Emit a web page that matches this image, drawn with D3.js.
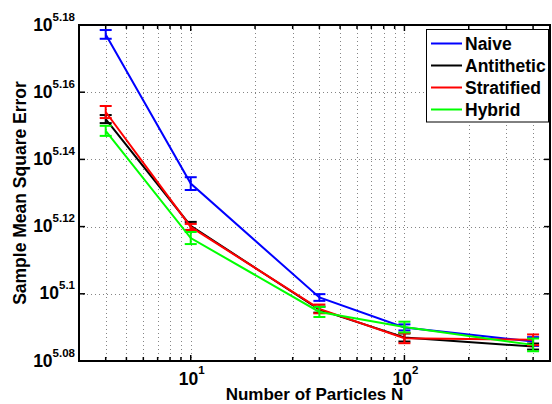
<!DOCTYPE html>
<html>
<head>
<meta charset="utf-8">
<script src="https://cdn.jsdelivr.net/npm/d3@7"></script>
<style>
  body { margin: 0; background: #fff; }
  text { font-family: "Liberation Sans", Arial, Helvetica, sans-serif; font-weight: bold; }
</style>
</head>
<body>
<script>
// particle counts on the x axis
var particles = [4, 10, 40, 100, 400];

// log10 of the sample mean square error, plus half-width of the error bar (also in log10 units)
var naiveLog = [5.1772, 5.1328, 5.0989, 5.0900, 5.0858];
var naiveErr = [0.0013, 0.0019, 0.0010, 0.0009, 0.0013];
var antitheticLog = [5.1520, 5.1202, 5.0953, 5.0870, 5.0843];
var antitheticErr = [0.0012, 0.0012, 0.0009, 0.0012, 0.0009];
var stratifiedLog = [5.1541, 5.1199, 5.0955, 5.0868, 5.0863];
var stratifiedErr = [0.0018, 0.0009, 0.0013, 0.0015, 0.0016];
var hybridLog = [5.1485, 5.1166, 5.0946, 5.0901, 5.0848];
var hybridErr = [0.0015, 0.0018, 0.0015, 0.0016, 0.0019];

var seriesNames = ["Naive", "Antithetic", "Stratified", "Hybrid"];
var seriesColors = ["#0000ff", "#000000", "#ff0000", "#00ff00"];

// tick labels
var yTickExp = [5.08, 5.10, 5.12, 5.14, 5.16, 5.18];
var yTickLabels = ["5.08", "5.1", "5.12", "5.14", "5.16", "5.18"];
var xTickValues = [10, 100];
var xTickLabels = ["1", "2"];
var xMinorValues = [3, 4, 5, 6, 7, 8, 9, 20, 30, 40, 50, 60, 70, 80, 90, 200, 300, 400];

var width = 552, height = 404;
var margin = {top: 25, right: 2, bottom: 43, left: 79};

var svg = d3.select("body").append("svg")
    .attr("width", width)
    .attr("height", height);

var x = d3.scaleLog().domain([3, 480]).range([margin.left, width - margin.right]);
var y = d3.scaleLog().domain([Math.pow(10, 5.08), Math.pow(10, 5.18)])
    .range([height - margin.bottom, margin.top]);

var x0 = x.range()[0], x1 = x.range()[1], y0 = y.range()[0], y1 = y.range()[1];

// grid lines (dotted)
var grid = svg.append("g").attr("stroke", "#858585").attr("stroke-width", 1)
    .attr("stroke-dasharray", "1,3");
xMinorValues.concat(xTickValues).forEach(function(v) {
  grid.append("line").attr("x1", Math.round(x(v)) + 0.5).attr("x2", Math.round(x(v)) + 0.5)
      .attr("y1", y1).attr("y2", y0);
});
yTickExp.forEach(function(e) {
  grid.append("line").attr("x1", x0).attr("x2", x1)
      .attr("y1", Math.round(y(Math.pow(10, e))) + 0.5).attr("y2", Math.round(y(Math.pow(10, e))) + 0.5);
});

// series
var allLog = [naiveLog, antitheticLog, stratifiedLog, hybridLog];
var allErr = [naiveErr, antitheticErr, stratifiedErr, hybridErr];

var line = d3.line()
    .x(function(d) { return x(d.n); })
    .y(function(d) { return y(Math.pow(10, d.v)); });

allLog.forEach(function(vals, s) {
  var pts = particles.map(function(n, i) { return {n: n, v: vals[i], e: allErr[s][i]}; });
  var g = svg.append("g").attr("stroke", seriesColors[s]).attr("stroke-width", 2).attr("fill", "none");
  g.append("path").attr("d", line(pts));
  pts.forEach(function(d) {
    var cx = x(d.n), ya = y(Math.pow(10, d.v - d.e)), yb = y(Math.pow(10, d.v + d.e));
    g.append("line").attr("x1", cx).attr("x2", cx).attr("y1", ya).attr("y2", yb);
    g.append("line").attr("x1", cx - 6).attr("x2", cx + 6).attr("y1", ya).attr("y2", ya);
    g.append("line").attr("x1", cx - 6).attr("x2", cx + 6).attr("y1", yb).attr("y2", yb);
  });
});

// axes box and ticks (inside, on all four sides)
var ax = svg.append("g").attr("stroke", "#000");
ax.append("rect").attr("x", x0).attr("y", y1).attr("width", x1 - x0).attr("height", y0 - y1)
    .attr("fill", "none").attr("stroke-width", 2);
xMinorValues.concat(xTickValues).forEach(function(v) {
  var len = xTickValues.indexOf(v) >= 0 ? 6 : 4;
  ax.append("line").attr("x1", x(v)).attr("x2", x(v)).attr("y1", y0).attr("y2", y0 - len).attr("stroke-width", 1.5);
  ax.append("line").attr("x1", x(v)).attr("x2", x(v)).attr("y1", y1).attr("y2", y1 + len).attr("stroke-width", 1.5);
});
yTickExp.forEach(function(e) {
  var yy = y(Math.pow(10, e));
  ax.append("line").attr("x1", x0).attr("x2", x0 + 6).attr("y1", yy).attr("y2", yy).attr("stroke-width", 1.5);
  ax.append("line").attr("x1", x1).attr("x2", x1 - 6).attr("y1", yy).attr("y2", yy).attr("stroke-width", 1.5);
});

// y tick labels 10^e
yTickExp.forEach(function(e, i) {
  var t = svg.append("text").attr("x", 75).attr("y", y(Math.pow(10, e)) + 5.5)
      .attr("text-anchor", "end").attr("font-size", 17.5);
  t.append("tspan").text("10");
  t.append("tspan").attr("font-size", 11.5).attr("dy", -10).text(yTickLabels[i]);
});

// x tick labels 10^k
xTickValues.forEach(function(v, i) {
  var t = svg.append("text").attr("x", x(v) + 1).attr("y", 385)
      .attr("text-anchor", "middle").attr("font-size", 17.5);
  t.append("tspan").text("10");
  t.append("tspan").attr("font-size", 11.5).attr("dy", -11).text(xTickLabels[i]);
});

// axis titles
svg.append("text").attr("x", (x0 + x1) / 2).attr("y", 400)
    .attr("text-anchor", "middle").attr("font-size", 17)
    .text("Number of Particles N");
svg.append("text").attr("transform", "translate(26," + (y0 + y1) / 2 + ") rotate(-90)")
    .attr("text-anchor", "middle").attr("font-size", 17.5)
    .text("Sample Mean Square Error");

// legend
var legend = svg.append("g");
legend.append("rect").attr("x", 426.5).attr("y", 29.5).attr("width", 122).attr("height", 92.5)
    .attr("fill", "#fff").attr("stroke", "#000").attr("stroke-width", 1);
seriesNames.forEach(function(name, i) {
  var by = 49.5 + i * 22;
  legend.append("line").attr("x1", 431).attr("x2", 462).attr("y1", by - 6).attr("y2", by - 6)
      .attr("stroke", seriesColors[i]).attr("stroke-width", 2);
  legend.append("text").attr("x", 465).attr("y", by).attr("font-size", 17.5).text(name);
});
</script>
</body>
</html>
